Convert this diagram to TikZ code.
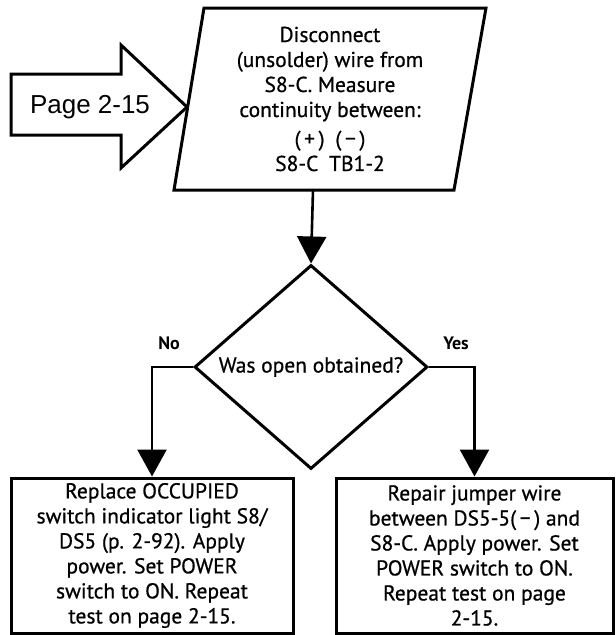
\documentclass[tikz,border=0pt]{standalone}
\usepackage{fontspec}
\setmainfont{PT Sans}
\newfontfamily\stepfont{PT Sans}[FakeBold=0.7]
\newfontfamily\pagefont{Liberation Sans}
\usetikzlibrary{shapes.geometric,arrows.meta,positioning,calc}

\tikzset{
  boxline/.style={line width=3pt, line join=miter},
  flow/.style={line width=2.6pt, -{Triangle[length=27pt,width=29pt]}},
  steptext/.style={align=center, font=\stepfont\fontsize{21.5}{25}\selectfont},
  decision/.style={diamond, draw, boxline, inner sep=0pt, minimum width=233pt, minimum height=169pt, steptext},
  action/.style={draw, boxline, minimum height=155pt, inner sep=0pt, steptext},
  answer/.style={font=\bfseries\fontsize{18}{20}\selectfont}
}

\begin{document}
\begin{tikzpicture}[x=1pt, y=-1pt]
\useasboundingbox (0,0) rectangle (616,635);

% entry arrow and measuring step
\draw[boxline] (11,74) -- (121,74) -- (121,45) -- (187,107) -- (121,168) -- (121,135) -- (11,135) -- cycle;
\node[font=\pagefont\fontsize{26}{28}\selectfont] (entry) at (90,107) {Page 2-15};
\draw[boxline] (204,8) -- (486,8) -- (454,190) -- (174,190) -- cycle;
\node[steptext] (measure) at (330,99) {Disconnect\\(unsolder) wire from\\S8-C. Measure\\continuity between:\\[4pt](\,+\,)\enspace(\,−\,)\\S8-C\enspace TB1-2};
\coordinate (mbottom) at (313,190);

% question and answers
\node[decision] (open) at (311,367) {Was open obtained?};
\node[action, minimum width=282pt] (replace) at (152,555.5) {Replace OCCUPIED\\switch indicator light S8/\\DS5 (p. 2-92). Apply\\power. Set POWER\\switch to ON. Repeat\\test on page 2-15.};
\node[action, minimum width=277pt] (repair) at (474.5,555.5) {Repair jumper wire\\between DS5-5(\,−\,) and\\S8-C. Apply power. Set\\POWER switch to ON.\\Repeat test on page\\2-15.};

\draw[flow] (mbottom) -- (open.north);
\draw[flow] (open.west) -| (replace.north);
\draw[flow] (open.east) -| (repair.north);
\node[answer] (no) at (169,343) {No};
\node[answer] (yes) at (456,343) {Yes};
\end{tikzpicture}
\end{document}
